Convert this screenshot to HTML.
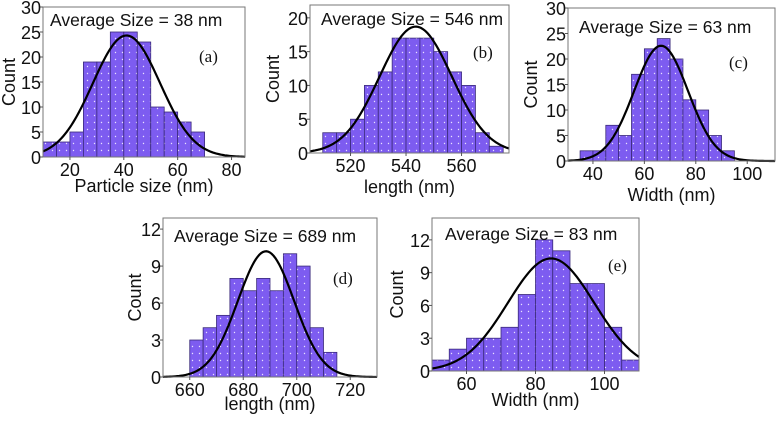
<!DOCTYPE html>
<html><head><meta charset="utf-8"><style>
body{margin:0;background:#fff;}
svg text{font-family:"Liberation Sans",sans-serif;fill:#111;}
</style></head><body>
<svg id="fig" width="776" height="418" xmlns="http://www.w3.org/2000/svg">
<defs>
<pattern id="dots" width="7" height="7" patternUnits="userSpaceOnUse">
<rect width="7" height="7" fill="#7d5cf0"/><circle cx="3.5" cy="3.5" r="0.7" fill="#e8e0ff"/>
</pattern>
</defs>
</svg>
<script>
// Panel (a)
const aBins=[10,15,20,25,30,35,40,45,50,55,60,65];
const aCounts=[3,3,5,19,19,25,25,23,10,9,7,5];
const aFit=[41,24.3,12.5];
const aXTicks=[20,40,60,80];
const aYTicks=[0,5,10,15,20,25,30];
// Panel (b)
const bBins=[510,515,520,525,530,535,540,545,550,555,560,565,570];
const bCounts=[3,3,5,10,12,17,17,17,15,12,10,3,1];
const bFit=[543.5,18.7,13];
const bXTicks=[520,540,560];
const bYTicks=[0,5,10,15,20];
// Panel (c)
const cBins=[35,40,45,50,55,60,65,70,75,80,85,90];
const cCounts=[2,2,7,5,17,22,24,20,12,10,5,2];
const cFit=[66.5,22.6,10.5];
const cXTicks=[40,60,80,100];
const cYTicks=[0,5,10,15,20,25,30];
// Panel (d)
const dBins=[660,665,670,675,680,685,690,695,700,705,710];
const dCounts=[3,4,5,8,7,8,7,10,9,4,2];
const dFit=[688.5,10.2,10.5];
const dXTicks=[660,680,700,720];
const dYTicks=[0,3,6,9,12];
// Panel (e)
const eBins=[50,55,60,65,70,75,80,85,90,95,100,105];
const eCounts=[1,2,3,3,4,7,12,11,8,8,4,1];
const eFit=[84.5,10.3,12.5];
const eXTicks=[60,80,100];
const eYTicks=[0,3,6,9,12];

const NS="http://www.w3.org/2000/svg";
const svg=document.getElementById('fig');
function mk(tag,attrs,parent){const e=document.createElementNS(NS,tag);for(const k in attrs)e.setAttribute(k,attrs[k]);(parent||svg).appendChild(e);return e;}

function panel(id,box,xd,yd,bins,counts,fit,xt,yt,avg,letter,xlabel,layout){
  const g=mk('g',{});
  
  
  const [L,T,R,B]=box;
  const sx=v=>L+(v-xd[0])/(xd[1]-xd[0])*(R-L);
  const sy=v=>B-(v-yd[0])/(yd[1]-yd[0])*(B-T);
  const w=5;
  bins.forEach((b,i)=>{
    const r=mk('rect',{x:sx(b),y:sy(counts[i]),width:sx(b+w)-sx(b),height:B-sy(counts[i]),fill:'url(#dots)',stroke:'#3a2a7a','stroke-width':0.8},g);
    
    
  });
  let d='';
  for(let i=0;i<=120;i++){const x=xd[0]+(xd[1]-xd[0])*i/120;const y=fit[1]*Math.exp(-Math.pow(x-fit[0],2)/(2*fit[2]*fit[2]));d+=(i?'L':'M')+sx(x).toFixed(2)+','+sy(y).toFixed(2);}
  const c=mk('path',{d:d,fill:'none',stroke:'#000','stroke-width':2.2},g);
  
  
  const fr=mk('rect',{x:L,y:T,width:R-L,height:B-T,fill:'none',stroke:'#777','stroke-width':1},g);
  
  
  xt.forEach(v=>{
    mk('line',{x1:sx(v),x2:sx(v),y1:B,y2:B+3,stroke:'#555'},g);
    const t=mk('text',{x:sx(v),y:B+19,'text-anchor':'middle','font-size':18},g);t.textContent=v;
    
    
  });
  yt.forEach(v=>{
    mk('line',{x1:L-3,x2:L,y1:sy(v),y2:sy(v),stroke:'#555'},g);
    const t=mk('text',{x:L-2,y:sy(v)+7,'text-anchor':'end','font-size':18},g);t.textContent=v;
    
    
  });
  const a=mk('text',{x:layout.ax,y:layout.ay,'font-size':17.5},g);a.textContent='Average Size = '+avg+' nm';
  
  
  const l=mk('text',{x:layout.lx,y:layout.ly,'font-size':17,style:'font-family:"Liberation Serif",serif'},g);l.textContent='('+letter+')';
  
  
  const xl=mk('text',{x:(L+R)/2,y:layout.xly,'text-anchor':'middle','font-size':18},g);xl.textContent=xlabel;
  
  
  const yl=mk('text',{x:0,y:0,'text-anchor':'middle','font-size':18,transform:'translate('+layout.ylx+','+((T+B)/2)+') rotate(-90)'},g);yl.textContent='Count';
  
  
}
panel('a',[43,7,245,157],[10,85],[0,30],aBins,aCounts,aFit,aXTicks,aYTicks,38,'a','Particle size (nm)',{ax:50,ay:26,lx:199,ly:62,xly:192,ylx:15});
panel('b',[310,5,509,153],[505.4,577.1],[0,21.9],bBins,bCounts,bFit,bXTicks,bYTicks,546,'b','length (nm)',{ax:321,ay:25,lx:473,ly:58,xly:193,ylx:279});
panel('c',[568,8,775,161],[30.3,110.8],[0,30],cBins,cCounts,cFit,cXTicks,cYTicks,63,'c','Width (nm)',{ax:579,ay:33,lx:729,ly:68,xly:201,ylx:537});
panel('d',[163,218,377,377],[650,730],[0,12.9],dBins,dCounts,dFit,dXTicks,dYTicks,689,'d','length (nm)',{ax:174,ay:242,lx:333,ly:284,xly:410,ylx:141});
panel('e',[432,218,639,371],[50,110],[0,14],eBins,eCounts,eFit,eXTicks,eYTicks,83,'e','Width (nm)',{ax:445,ay:240,lx:608,ly:271,xly:406,ylx:403});
</script>
</body></html>
